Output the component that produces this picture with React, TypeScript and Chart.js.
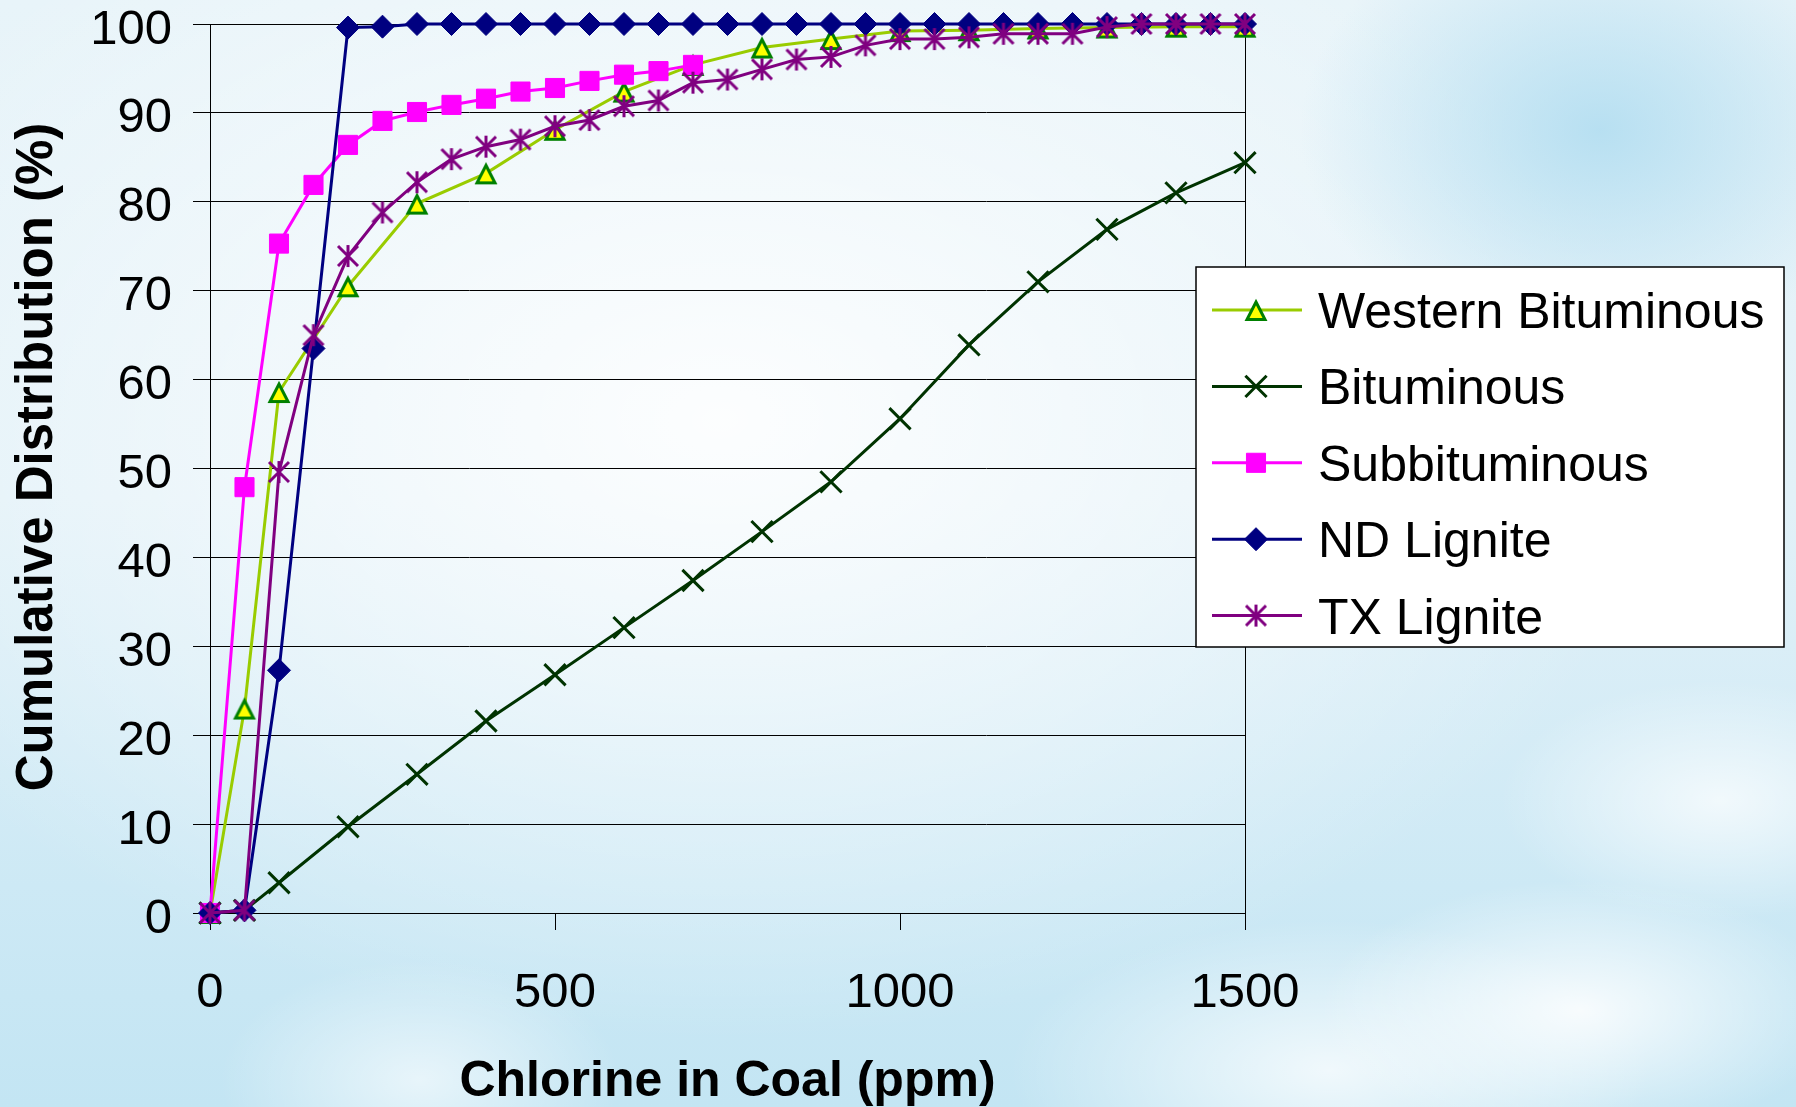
import React, { useEffect, useRef } from 'react';
import { Chart, registerables } from 'chart.js';

Chart.register(...registerables);

// ---- data ----
const westernX = [0, 50, 100, 200, 300, 400, 500, 600, 700, 800, 900, 1000, 1100, 1200, 1300, 1400, 1500];
const westernY = [0, 23, 58.6, 70.5, 79.8, 83.2, 88.1, 92.4, 95.4, 97.35, 98.3, 99.2, 99.3, 99.5, 99.6, 99.7, 99.7];

const bitX = [0, 50, 100, 200, 300, 400, 500, 600, 700, 800, 900, 1000, 1100, 1200, 1300, 1400, 1500];
const bitY = [0, 0.3, 3.4, 9.7, 15.6, 21.6, 26.8, 32.1, 37.4, 42.9, 48.5, 55.6, 63.9, 71.0, 76.9, 81.0, 84.4];

const subX = [0, 50, 100, 150, 200, 250, 300, 350, 400, 450, 500, 550, 600, 650, 700];
const subY = [0, 47.9, 75.3, 81.9, 86.4, 89.1, 90.1, 90.9, 91.6, 92.4, 92.8, 93.6, 94.3, 94.7, 95.4];

const ndX = [0, 50, 100, 150, 200, 250, 300, 350, 400, 450, 500, 550, 600, 650, 700, 750, 800, 850, 900, 950, 1000, 1050, 1100, 1150, 1200, 1250, 1300, 1350, 1400, 1450, 1500];
const ndY = [0, 0.3, 27.3, 63.5, 99.6, 99.7, 100, 100, 100, 100, 100, 100, 100, 100, 100, 100, 100, 100, 100, 100, 100, 100, 100, 100, 100, 100, 100, 100, 100, 100, 100];

const txX = [0, 50, 100, 150, 200, 250, 300, 350, 400, 450, 500, 550, 600, 650, 700, 750, 800, 850, 900, 950, 1000, 1050, 1100, 1150, 1200, 1250, 1300, 1350, 1400, 1450, 1500];
const txY = [0, 0.3, 49.6, 65, 73.9, 78.8, 82.2, 84.8, 86.2, 87.0, 88.5, 89.2, 90.75, 91.4, 93.4, 93.75, 94.9, 96.0, 96.3, 97.6, 98.3, 98.3, 98.5, 98.9, 98.9, 98.9, 99.65, 100, 100, 100, 100];

const seriesLabels = ['Western Bituminous', 'Bituminous', 'Subbituminous', 'ND Lignite', 'TX Lignite'];

const xTickStep = 500;
const yTickStep = 10;
const xAxisTitle = 'Chlorine in Coal (ppm)';
const yAxisTitle = 'Cumulative Distribution (%)';

const FONT = '"Liberation Sans", Arial, Helvetica, sans-serif';

function toPoints(xs: number[], ys: number[]) {
  return xs.map((x, i) => ({ x, y: ys[i] }));
}

function makeAsterisk(color: string): HTMLCanvasElement {
  const size = 28;
  const c = document.createElement('canvas');
  c.width = size;
  c.height = size;
  const g = c.getContext('2d')!;
  const m = size / 2;
  g.strokeStyle = color;
  g.lineWidth = 3;
  g.beginPath();
  g.moveTo(m, m - 11);
  g.lineTo(m, m + 11);
  g.moveTo(m - 10, m - 10);
  g.lineTo(m + 10, m + 10);
  g.moveTo(m + 10, m - 10);
  g.lineTo(m - 10, m + 10);
  g.stroke();
  return c;
}

function makeTriangle(fill: string, stroke: string): HTMLCanvasElement {
  const size = 26;
  const c = document.createElement('canvas');
  c.width = size;
  c.height = size;
  const g = c.getContext('2d')!;
  g.fillStyle = fill;
  g.strokeStyle = stroke;
  g.lineWidth = 3;
  g.lineJoin = 'miter';
  g.beginPath();
  g.moveTo(13, 5);
  g.lineTo(22, 22.5);
  g.lineTo(4, 22.5);
  g.closePath();
  g.fill();
  g.stroke();
  return c;
}

function drawMarker(ctx: CanvasRenderingContext2D, ds: any, x: number, y: number) {
  const style = ds.pointStyle;
  const r = ds.pointRadius;
  ctx.save();
  if (style instanceof HTMLCanvasElement) {
    ctx.drawImage(style, x - style.width / 2, y - style.height / 2);
    ctx.restore();
    return;
  }
  ctx.fillStyle = ds.pointBackgroundColor;
  ctx.strokeStyle = ds.pointBorderColor;
  ctx.lineWidth = ds.pointBorderWidth;
  ctx.beginPath();
  if (style === 'crossRot') {
    const d = Math.SQRT1_2 * r;
    ctx.moveTo(x - d, y - d);
    ctx.lineTo(x + d, y + d);
    ctx.moveTo(x + d, y - d);
    ctx.lineTo(x - d, y + d);
    ctx.stroke();
  } else if (style === 'rect') {
    const d = Math.SQRT1_2 * r;
    ctx.rect(x - d, y - d, 2 * d, 2 * d);
    ctx.fill();
    ctx.stroke();
  } else if (style === 'rectRot') {
    ctx.moveTo(x - r, y);
    ctx.lineTo(x, y - r);
    ctx.lineTo(x + r, y);
    ctx.lineTo(x, y + r);
    ctx.closePath();
    ctx.fill();
    ctx.stroke();
  }
  ctx.restore();
}

const framePlugin = {
  id: 'frame',
  beforeDatasetsDraw(chart: any) {
    const { ctx, chartArea } = chart;
    ctx.save();
    ctx.strokeStyle = '#000';
    ctx.lineWidth = 1;
    ctx.beginPath();
    const xr = Math.round(chartArea.right) + 0.5;
    ctx.moveTo(xr, chartArea.top);
    ctx.lineTo(xr, chartArea.bottom);
    ctx.stroke();
    ctx.restore();
  },
  afterDraw(chart: any) {
    const ctx: CanvasRenderingContext2D = chart.ctx;
    ctx.save();
    ctx.translate(38, 457);
    ctx.rotate(-Math.PI / 2);
    ctx.fillStyle = '#000';
    ctx.font = `bold 51px ${FONT}`;
    ctx.textAlign = 'center';
    ctx.textBaseline = 'middle';
    ctx.fillText(yAxisTitle, 0, 0);
    ctx.restore();
  },
};

const boxLegendPlugin = {
  id: 'boxLegend',
  afterDraw(chart: any) {
    const ctx: CanvasRenderingContext2D = chart.ctx;
    const bx = 1196, by = 267, bw = 588, bh = 380;
    ctx.save();
    ctx.fillStyle = '#ffffff';
    ctx.fillRect(bx, by, bw, bh);
    ctx.strokeStyle = '#000';
    ctx.lineWidth = 1.5;
    ctx.strokeRect(bx, by, bw, bh);
    chart.data.datasets.forEach((ds: any, i: number) => {
      const y = 310 + i * 76.4;
      ctx.strokeStyle = ds.borderColor;
      ctx.lineWidth = ds.borderWidth;
      ctx.beginPath();
      ctx.moveTo(1212, y);
      ctx.lineTo(1302, y);
      ctx.stroke();
      drawMarker(ctx, ds, 1256, y);
      ctx.fillStyle = '#000';
      ctx.font = `50px ${FONT}`;
      ctx.textAlign = 'left';
      ctx.textBaseline = 'alphabetic';
      ctx.fillText(ds.label, 1318, y + 18);
    });
    ctx.restore();
  },
};

export default function App() {
  const canvasRef = useRef<HTMLCanvasElement | null>(null);

  useEffect(() => {
    if (!canvasRef.current) return;
    const asterisk = makeAsterisk('#800080');
    const triangle = makeTriangle('#FFFF00', '#008000');
    const chart = new Chart(canvasRef.current, {
      type: 'line',
      data: {
        datasets: [
          {
            label: seriesLabels[0],
            data: toPoints(westernX, westernY),
            borderColor: '#99CC00',
            borderWidth: 3,
            pointStyle: triangle,
            pointRadius: 11,
            pointBackgroundColor: '#FFFF00',
            pointBorderColor: '#008000',
            pointBorderWidth: 3,
            clip: false,
            order: 5,
          },
          {
            label: seriesLabels[1],
            data: toPoints(bitX, bitY),
            borderColor: '#003300',
            borderWidth: 3,
            pointStyle: 'crossRot',
            pointRadius: 15,
            pointBackgroundColor: '#003300',
            pointBorderColor: '#003300',
            pointBorderWidth: 3,
            clip: false,
            order: 4,
          },
          {
            label: seriesLabels[2],
            data: toPoints(subX, subY),
            borderColor: '#FF00FF',
            borderWidth: 3,
            pointStyle: 'rect',
            pointRadius: 13.5,
            pointBackgroundColor: '#FF00FF',
            pointBorderColor: '#FF00FF',
            pointBorderWidth: 1,
            clip: false,
            order: 3,
          },
          {
            label: seriesLabels[3],
            data: toPoints(ndX, ndY),
            borderColor: '#000080',
            borderWidth: 3,
            pointStyle: 'rectRot',
            pointRadius: 11.5,
            pointBackgroundColor: '#000080',
            pointBorderColor: '#000080',
            pointBorderWidth: 1,
            clip: false,
            order: 2,
          },
          {
            label: seriesLabels[4],
            data: toPoints(txX, txY),
            borderColor: '#800080',
            borderWidth: 3,
            pointStyle: asterisk,
            pointRadius: 12,
            pointBackgroundColor: '#800080',
            pointBorderColor: '#800080',
            pointBorderWidth: 3,
            clip: false,
            order: 1,
          },
        ] as any,
      },
      options: {
        responsive: false,
        animation: false,
        devicePixelRatio: 1,
        layout: { padding: { top: 24, right: 551, bottom: 0, left: 0 } },
        elements: { line: { tension: 0 } },
        plugins: {
          legend: { display: false },
          tooltip: { enabled: false },
        },
        scales: {
          x: {
            type: 'linear',
            min: 0,
            max: 1500,
            ticks: {
              stepSize: xTickStep,
              color: '#000',
              font: { family: FONT, size: 49 },
              padding: 34,
              maxRotation: 0,
              callback: (v: any) => String(v),
            },
            grid: { drawOnChartArea: false, drawTicks: true, tickLength: 17, color: '#000', lineWidth: 1 },
            border: { display: true, color: '#000', width: 1 },
            title: {
              display: true,
              text: xAxisTitle,
              color: '#000',
              font: { family: FONT, size: 50, weight: 'bold', lineHeight: 1 },
              padding: { top: 0, bottom: 0 },
            },
            afterFit: (s: any) => {
              s.height = 194;
              s.paddingLeft = 0;
              s.paddingRight = 0;
            },
          },
          y: {
            type: 'linear',
            min: 0,
            max: 100,
            ticks: {
              stepSize: yTickStep,
              color: '#000',
              font: { family: FONT, size: 49 },
              padding: 21,
              labelOffset: 6,
              callback: (v: any) => String(v),
            },
            grid: { color: '#000', lineWidth: 1, drawTicks: true, tickLength: 17 },
            border: { display: true, color: '#000', width: 1 },
            title: { display: false },
            afterFit: (s: any) => {
              s.width = 210;
              s.paddingTop = 0;
              s.paddingBottom = 0;
            },
          },
        },
      } as any,
      plugins: [framePlugin, boxLegendPlugin],
    });
    return () => chart.destroy();
  }, []);

  const bg = [
    'radial-gradient(ellipse 260px 130px at 1580px 1010px, rgba(255,255,255,0.85), rgba(255,255,255,0) 100%)',
    'radial-gradient(ellipse 320px 150px at 1330px 1070px, rgba(255,255,255,0.75), rgba(255,255,255,0) 100%)',
    'radial-gradient(ellipse 220px 120px at 1720px 800px, rgba(255,255,255,0.7), rgba(255,255,255,0) 100%)',
    'radial-gradient(ellipse 200px 120px at 420px 1080px, rgba(255,255,255,0.6), rgba(255,255,255,0) 100%)',
    'radial-gradient(ellipse 300px 220px at 1600px 130px, rgba(175,220,240,0.85), rgba(175,220,240,0) 100%)',
    'radial-gradient(ellipse 950px 620px at 720px 420px, rgba(255,255,255,0.9), rgba(255,255,255,0) 100%)',
    'linear-gradient(180deg, #e8f4f9 0%, #e2f1f8 45%, #cde9f5 80%, #c3e5f3 100%)',
  ].join(', ');

  return (
    <div
      style={{
        position: 'fixed',
        left: 0,
        top: 0,
        width: 1796,
        height: 1107,
        background: bg,
        overflow: 'hidden',
      }}
    >
      <canvas ref={canvasRef} width={1796} height={1107} style={{ display: 'block', width: 1796, height: 1107 }} />
    </div>
  );
}
